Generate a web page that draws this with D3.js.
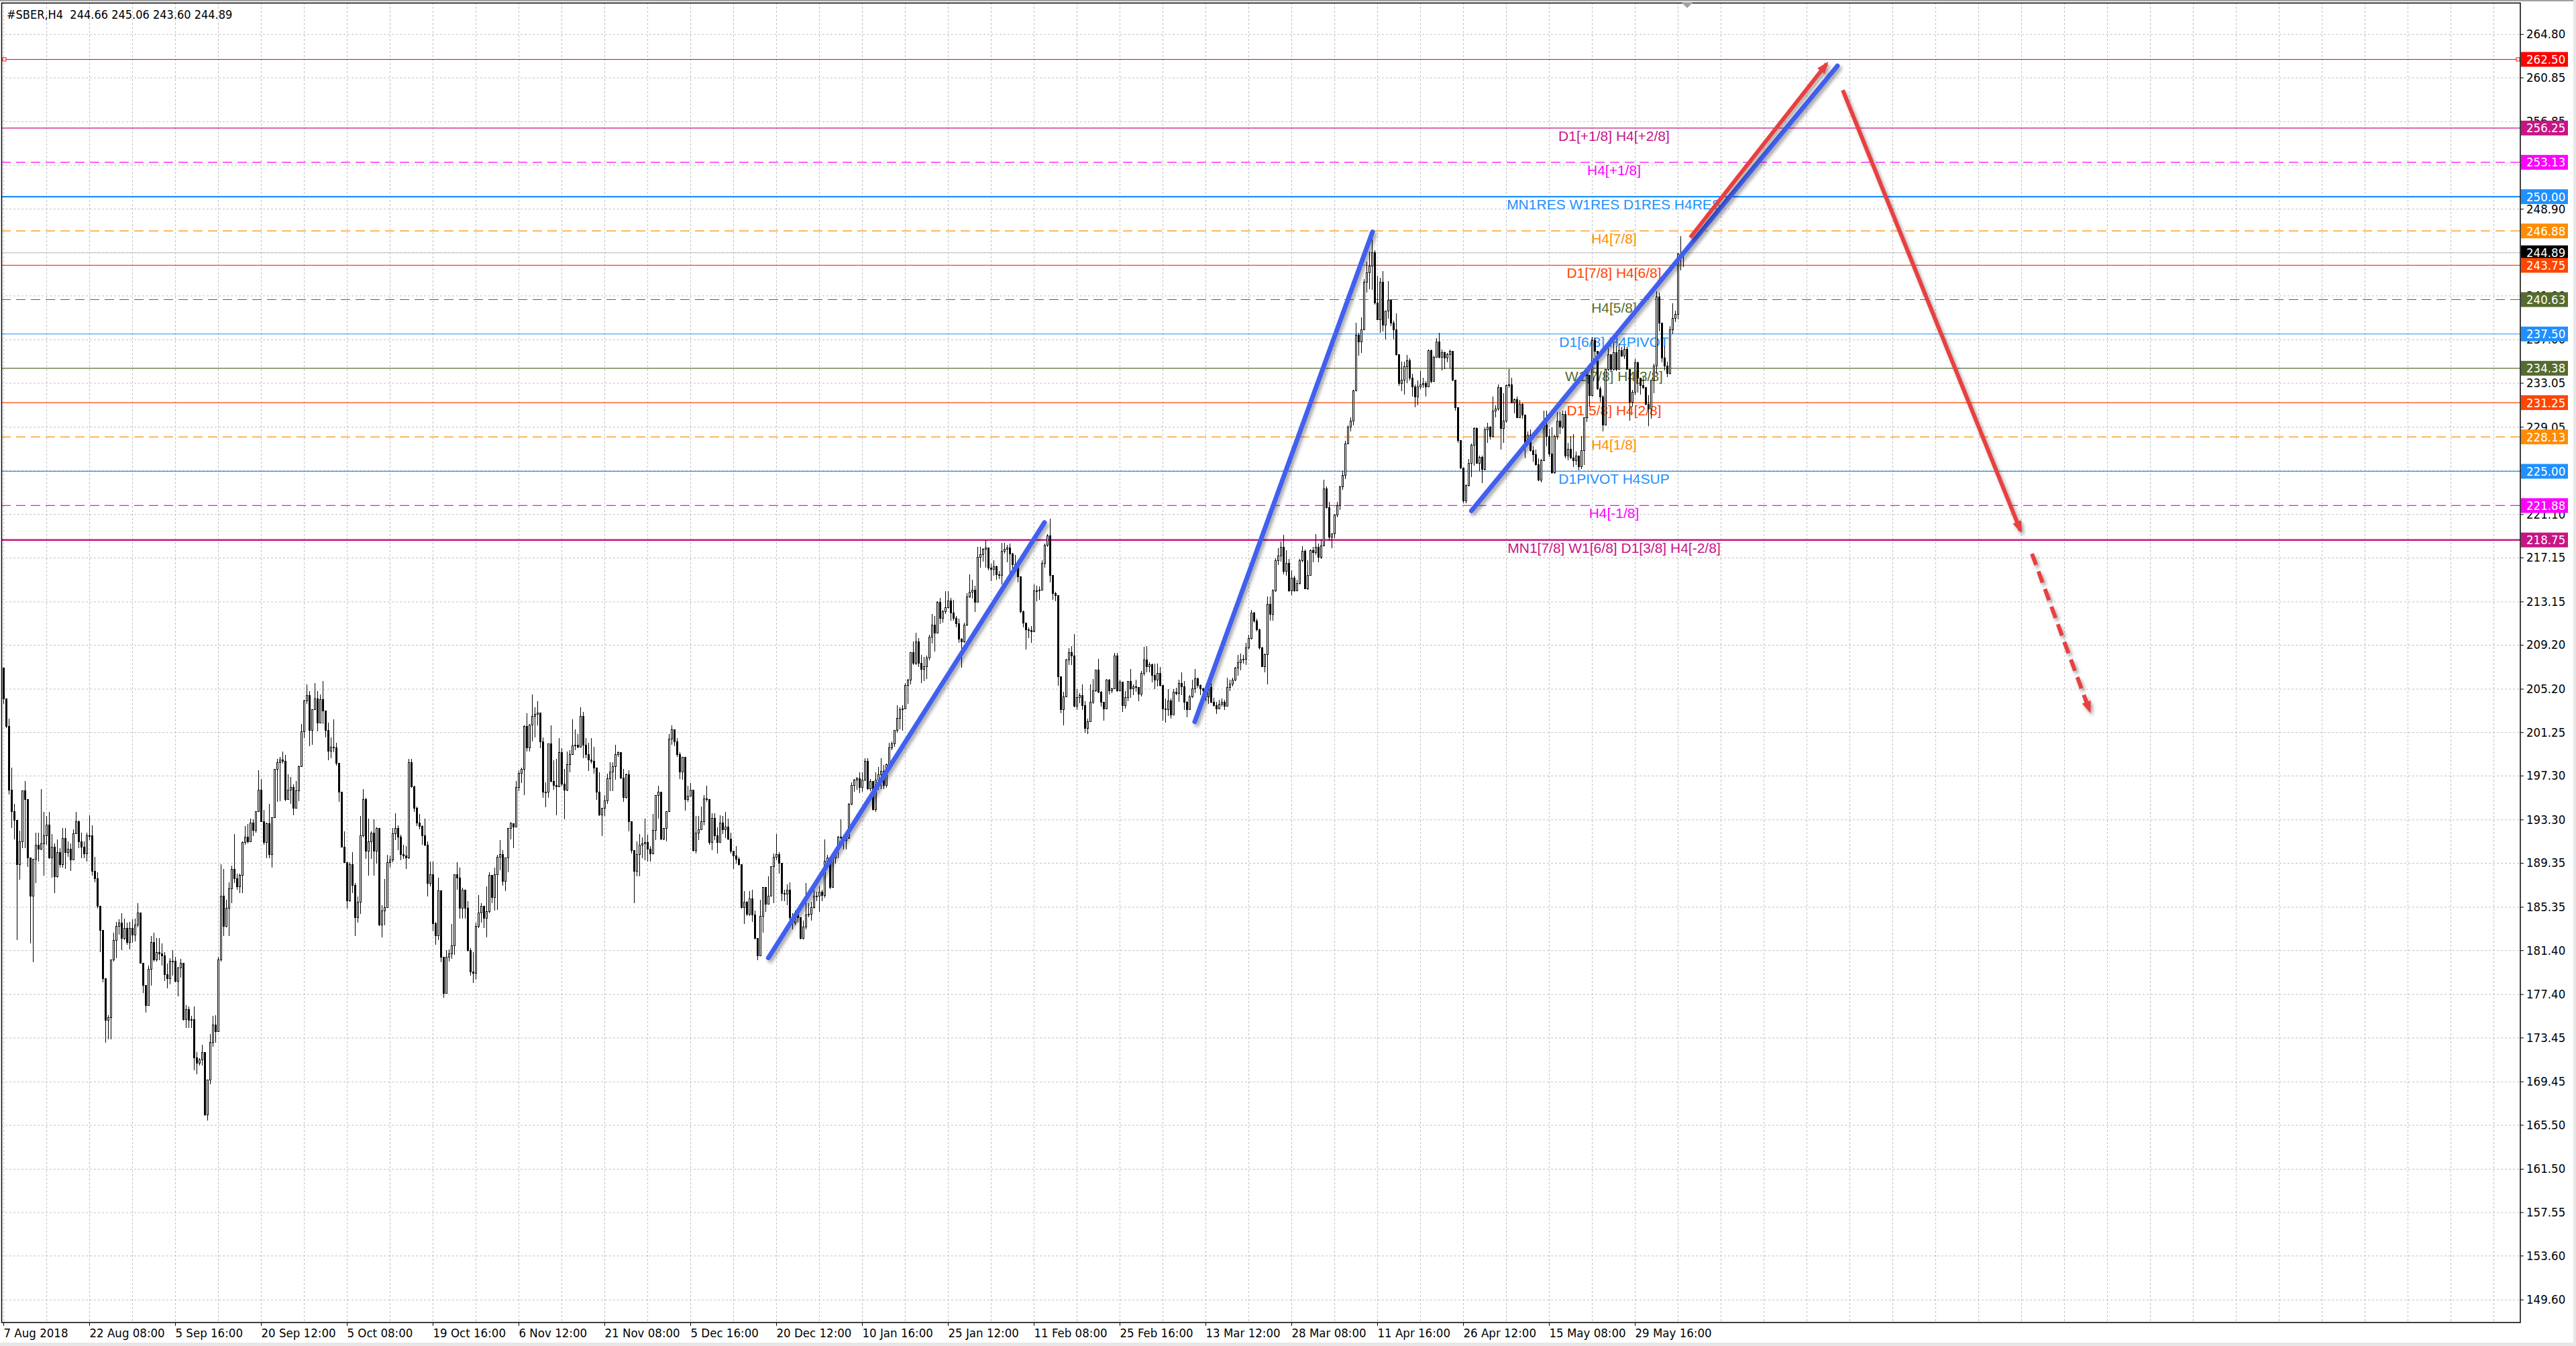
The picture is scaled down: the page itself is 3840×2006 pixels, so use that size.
<!DOCTYPE html>
<html>
<head>
<meta charset="utf-8">
<script src="https://d3js.org/d3.v7.min.js"></script>
<style>
html, body { margin: 0; padding: 0; background: #fff; overflow: hidden; }
svg { display: block; }
.ax text { font-family: "DejaVu Sans Condensed", "DejaVu Sans", sans-serif; font-size: 18.5px; fill: #000; }
.ax line { stroke: #000; }
.grid line { stroke: #c0c0c0; stroke-dasharray: 3,3; }
.lvl { font-family: "Liberation Sans", Arial, sans-serif; font-size: 21px; text-anchor: middle; }
</style>
</head>
<body>
<div id="chart"></div>
<script>
// #SBER H4 candles, one row = 16 bars (one grid cell)
var firstOpen = 207.1;

var closes = [
204.3,201.8,196.0,194.0,193.2,189.2,191.3,195.9,195.1,189.8,186.3,189.7,191.0,190.6,191.1,191.8,
192.8,189.8,190.8,188.1,190.3,189.2,191.6,190.3,190.6,189.6,192.0,193.1,191.3,190.8,190.2,191.8,
191.8,188.6,187.9,185.4,183.2,178.8,175.0,175.3,180.5,182.3,183.6,183.9,182.5,183.4,182.1,183.4,
182.8,183.7,184.8,180.2,178.2,176.4,179.7,182.1,180.5,181.2,181.1,180.9,179.2,178.8,180.4,180.4,
178.6,179.8,180.2,175.1,176.0,175.0,175.1,171.6,171.1,171.4,172.1,166.4,169.6,173.0,174.6,174.0,
180.5,186.3,183.6,185.2,187.0,188.8,187.9,187.2,188.2,191.2,191.7,191.3,193.0,192.3,194.0,196.0,
193.1,191.2,192.9,190.1,193.5,197.9,198.5,198.7,198.6,195.1,196.0,196.2,194.3,195.9,198.1,201.3,
204.1,204.6,201.4,203.3,204.3,202.1,204.2,203.2,201.4,199.5,199.9,199.8,198.4,195.8,190.8,189.4,
185.9,189.2,187.3,184.4,185.8,191.8,195.1,190.4,191.3,192.1,190.4,192.5,183.7,185.0,185.3,189.4,
189.6,192.0,192.5,191.7,190.1,190.0,189.8,198.5,196.3,194.3,193.0,192.7,191.8,191.0,187.5,188.3,
183.8,182.7,186.8,180.8,177.5,180.8,181.1,181.8,188.3,188.0,185.2,186.9,185.2,181.4,179.4,179.3,
183.6,184.8,185.4,184.3,184.9,188.2,186.2,188.3,189.9,190.1,187.7,189.8,192.5,192.9,192.6,196.2,
197.5,197.9,201.8,199.8,201.9,202.7,202.9,203.0,200.4,195.8,195.8,200.2,196.8,196.4,196.3,199.4,
196.5,196.0,198.3,199.2,200.0,200.1,199.9,202.7,200.1,199.2,198.7,198.6,198.0,195.8,193.7,194.3,
195.0,197.0,197.6,198.1,199.2,199.4,197.1,195.3,197.4,193.1,190.5,188.6,190.1,191.0,191.1,191.2,
190.6,190.2,192.3,195.5,195.8,191.5,192.5,194.0,200.6,201.5,200.4,199.2,197.6,199.0,195.1,195.4,
196.0,190.5,192.1,192.4,193.1,195.2,195.1,191.2,193.4,191.8,191.2,193.0,192.4,192.6,191.5,190.4,
190.0,189.7,189.2,185.3,185.8,184.7,186.1,184.6,182.5,180.9,184.5,187.1,185.6,186.3,189.0,189.9,
190.1,189.3,186.6,186.5,186.9,184.4,183.9,184.6,184.4,182.5,183.5,184.6,184.7,185.3,186.3,186.3,
186.7,186.4,189.5,189.8,187.1,189.8,190.5,191.7,191.7,191.4,191.6,194.7,196.4,196.9,197.0,196.2,
196.9,198.6,196.1,196.8,194.2,196.9,197.4,197.7,196.4,198.3,199.8,200.2,201.4,202.5,203.3,203.4,
205.5,206.0,208.5,207.5,209.5,207.5,207.0,207.2,208.0,209.9,211.0,210.3,213.1,211.6,212.2,212.6,
213.2,212.1,211.6,211.1,209.7,209.5,211.0,213.6,214.0,214.2,213.1,217.2,217.4,217.9,218.0,216.2,
216.1,216.3,215.6,215.5,217.7,217.9,218.0,217.5,216.5,216.4,215.4,212.2,211.2,210.6,210.5,210.4,
214.1,214.1,214.2,216.6,218.3,219.1,215.5,213.9,213.7,206.3,203.3,204.5,207.8,208.5,208.2,203.6,
204.4,204.6,203.7,201.6,202.2,204.0,205.0,206.9,204.9,204.0,203.4,206.0,205.0,205.2,208.2,205.0,
205.8,203.7,204.4,205.9,205.2,205.4,205.3,204.7,206.6,207.8,207.2,207.4,206.4,206.0,206.6,205.5,
203.4,203.3,204.1,202.8,204.9,204.8,205.7,205.4,204.0,203.3,204.5,205.2,206.1,205.5,205.2,205.1,
204.5,205.3,204.0,203.7,203.4,203.8,204.0,203.6,205.3,205.6,206.0,207.1,207.6,207.8,207.9,208.9,
209.8,212.1,211.4,210.6,208.9,207.2,208.3,212.9,212.0,214.1,216.9,217.3,218.1,215.9,216.6,214.1,
215.3,214.1,214.8,216.9,217.7,214.3,215.5,217.8,217.6,218.1,217.2,218.2,223.4,221.7,219.0,219.3,
221.0,221.9,223.6,224.6,227.5,229.0,229.6,232.3,237.4,236.8,237.9,242.2,243.1,243.7,244.9,240.3,
238.8,242.2,238.3,239.6,240.6,238.5,237.9,235.6,233.0,233.3,234.5,235.1,233.5,232.7,231.8,232.7,
232.9,233.0,232.7,236.0,233.2,235.4,236.8,235.4,235.8,235.3,235.6,235.9,233.3,230.8,227.8,225.3,
222.3,223.7,225.7,227.4,228.9,225.7,226.3,225.2,228.8,229.0,228.2,230.5,230.7,232.6,228.9,229.6,
232.8,232.9,231.2,231.5,229.9,231.1,230.1,227.6,228.3,226.9,226.5,225.6,224.2,226.0,229.2,228.2,
226.6,224.9,228.2,229.6,229.0,230.2,226.4,227.0,226.2,226.0,226.4,225.4,226.9,229.9,233.7,231.9,
236.9,235.9,232.5,231.8,229.2,234.3,235.6,234.3,235.8,234.3,236.0,235.5,236.1,234.3,231.3,232.2,
234.9,233.5,232.8,232.6,231.1,230.7,233.3,234.6,240.9,238.5,235.3,234.6,233.9,237.9,238.9,239.3,
244.8,244.66,244.89
];

var highs = [
207.1,204.1,202.5,198.0,194.7,193.2,192.3,195.9,196.8,195.1,189.8,189.7,192.1,192.1,196.1,194.0,
193.6,194.0,192.0,191.1,191.5,190.7,192.5,192.5,191.3,191.1,192.4,194.0,193.2,192.1,191.3,192.1,
193.7,192.8,189.9,188.5,185.4,183.2,178.8,175.5,180.5,183.0,184.0,184.2,184.8,184.3,183.9,184.0,
184.2,184.3,185.7,184.8,180.2,178.2,180.0,182.7,183.0,182.5,182.5,182.0,181.2,180.2,180.7,181.4,
180.8,179.9,180.6,180.2,176.4,176.3,175.4,176.3,172.1,171.6,172.8,172.1,169.6,173.8,175.4,175.5,
180.8,189.2,188.8,186.0,187.6,189.1,192.0,188.4,188.4,191.3,192.7,192.9,193.4,193.3,194.0,197.8,
197.0,194.2,193.0,194.7,193.5,197.9,198.8,199.0,199.5,199.2,197.4,197.2,196.5,196.8,198.2,202.0,
204.2,205.6,205.0,203.3,205.7,205.0,204.7,205.9,203.2,202.1,200.8,202.4,200.3,198.4,195.8,192.2,
189.4,189.4,190.3,187.5,186.3,193.6,196.1,195.3,193.4,192.2,193.3,192.6,192.5,185.5,187.9,190.1,
190.0,192.5,193.9,192.8,191.9,191.0,190.9,198.8,198.8,196.4,194.5,193.8,192.8,193.4,191.3,189.5,
189.5,184.0,188.0,186.8,180.8,181.4,181.5,183.8,188.3,189.4,188.9,187.1,186.9,185.9,181.6,181.2,
183.9,186.4,185.7,185.4,187.2,188.5,188.2,188.9,190.1,191.4,190.5,189.8,192.5,193.1,192.9,196.8,
197.8,198.0,201.9,203.0,202.0,204.7,203.5,204.1,203.0,200.8,196.7,200.2,201.9,198.7,198.8,200.7,
199.8,197.9,199.5,199.6,202.4,201.5,201.1,203.5,203.1,200.7,200.3,200.7,199.9,198.0,197.6,194.3,
195.5,197.5,198.5,198.5,200.1,199.5,199.4,197.9,197.5,197.8,193.1,190.5,191.3,192.0,191.7,193.4,
191.9,190.9,193.8,195.5,196.4,195.8,192.5,194.0,201.1,201.9,201.5,200.7,199.4,199.0,199.0,196.4,
196.6,196.0,193.6,193.6,194.5,195.5,196.4,195.1,193.9,193.9,192.6,193.7,193.6,194.0,193.4,192.1,
190.4,190.9,189.9,189.2,186.8,185.9,186.8,186.9,185.0,182.5,186.0,187.1,187.1,188.1,189.0,190.2,
192.0,190.3,189.3,186.9,187.4,187.6,184.8,185.0,185.0,184.4,184.1,187.5,185.7,185.8,187.1,186.7,
187.2,186.9,191.5,190.1,189.8,189.9,190.6,191.8,193.3,191.9,191.9,194.8,196.7,197.0,197.2,197.6,
197.6,198.9,198.9,197.0,196.8,197.6,198.1,198.9,198.3,198.4,200.3,200.4,201.4,203.7,203.5,203.7,
205.7,206.1,208.5,209.5,210.3,209.8,208.3,208.1,208.2,210.1,212.0,211.8,213.2,213.5,212.4,214.1,
214.1,213.5,213.3,211.8,211.6,209.8,211.2,213.9,215.6,215.1,214.6,218.1,218.1,218.0,218.75,217.9,
216.6,216.9,216.4,215.9,218.5,218.5,218.3,218.4,217.6,217.4,216.7,215.4,212.3,211.2,210.8,210.9,
214.7,214.6,214.5,216.9,218.4,219.3,220.7,215.5,214.0,213.7,206.3,204.9,207.9,208.9,209.1,210.2,
205.2,204.8,205.6,204.1,202.5,205.6,206.1,206.9,207.9,205.0,204.0,206.1,206.1,205.3,208.5,208.5,
206.0,205.8,205.0,205.9,207.0,205.6,206.0,205.3,206.8,209.0,209.1,207.6,207.5,207.5,207.5,207.2,
205.5,204.3,205.2,204.3,205.2,205.3,206.0,206.7,205.9,204.1,204.6,206.0,207.0,206.2,205.6,205.3,
205.1,205.7,205.7,204.4,204.0,204.2,204.3,204.2,206.2,206.0,206.2,207.2,208.3,208.4,208.3,209.4,
210.1,212.4,212.2,211.6,210.7,209.0,208.4,213.6,213.6,214.3,217.1,218.0,218.6,219.2,217.8,217.0,
216.0,215.5,215.1,217.0,218.2,217.9,216.9,217.9,218.1,219.3,218.4,218.8,224.2,223.6,222.2,219.3,
221.1,222.2,223.7,225.0,227.8,229.2,229.9,232.4,238.5,237.6,239.0,242.5,244.1,245.0,246.9,245.1,
242.8,242.6,243.2,239.6,242.3,240.6,238.7,239.4,235.6,235.0,235.0,235.6,235.3,233.9,232.9,233.3,
234.1,233.5,233.2,236.1,236.1,235.5,237.1,237.6,236.1,235.9,235.8,236.1,235.9,233.3,230.8,227.8,
225.3,223.8,226.1,227.5,229.0,229.0,226.4,226.4,229.0,229.4,229.1,231.8,231.0,232.9,232.6,232.1,
232.9,234.3,233.5,231.6,231.8,231.5,231.2,230.1,228.6,228.8,227.3,227.0,226.2,226.1,230.5,230.5,
228.9,229.0,228.3,230.4,230.4,230.5,230.5,227.6,228.2,228.4,226.8,226.4,228.2,229.9,234.3,233.7,
237.2,237.2,235.9,232.7,231.9,234.3,236.4,235.6,236.7,236.4,236.6,236.3,236.4,236.3,234.3,232.4,
235.2,235.0,233.5,233.6,232.6,231.9,233.3,234.8,241.4,241.3,238.5,236.4,235.0,238.2,240.3,239.6,
244.9,246.4,245.06
];

var lows = [
203.8,201.6,195.6,192.5,191.5,182.3,187.8,190.7,190.7,189.0,182.0,180.3,187.5,189.5,190.5,188.2,
191.0,189.7,188.0,186.6,188.0,188.9,188.9,188.8,189.9,188.6,189.6,192.0,190.7,189.8,189.8,189.5,
191.4,188.2,187.6,185.2,181.2,178.5,173.0,173.3,173.3,180.4,180.7,182.8,181.4,182.3,181.9,181.5,
182.1,182.2,183.5,180.2,177.5,175.7,176.4,178.2,180.4,180.4,180.5,180.0,178.6,177.9,178.3,179.1,
178.5,177.2,178.9,175.0,174.3,174.3,174.3,170.5,170.1,170.9,170.9,166.3,165.9,169.2,172.6,173.0,
174.0,180.4,182.7,183.5,182.7,185.7,187.5,186.9,186.6,186.6,191.0,191.1,191.3,191.8,192.1,194.0,
193.1,191.0,189.8,189.8,188.9,193.5,194.9,195.0,198.4,195.0,195.1,194.7,193.7,194.3,195.0,198.1,
200.7,203.8,200.0,200.1,203.3,201.3,202.1,202.0,200.8,198.7,198.9,199.4,198.2,194.9,190.8,189.4,
185.2,185.8,186.6,182.7,183.9,184.7,191.7,189.7,188.2,189.7,188.2,189.3,183.6,182.6,183.7,185.3,
188.9,189.4,191.4,190.5,189.6,189.7,188.8,189.7,196.2,194.0,192.7,192.4,191.0,190.9,186.3,187.2,
183.1,181.9,182.3,180.3,177.1,177.5,180.4,180.6,181.0,186.9,184.3,184.3,184.3,181.3,179.1,178.4,
178.7,183.4,183.9,183.4,182.6,184.8,185.7,185.0,185.1,188.7,187.3,186.8,188.5,191.5,190.7,192.6,
195.9,196.6,195.5,199.5,199.5,200.4,200.8,201.9,199.8,195.3,194.4,195.3,196.7,196.0,193.7,196.3,
196.3,193.3,195.9,197.6,199.2,199.6,199.8,199.9,198.9,198.9,197.7,198.4,197.5,195.1,193.6,191.8,
193.6,194.7,195.9,195.9,196.9,199.0,197.0,194.9,195.2,192.2,190.2,185.7,188.1,188.1,189.8,189.6,
189.5,189.5,190.2,191.4,193.4,191.4,191.4,191.3,194.0,200.1,200.0,199.0,197.0,196.9,194.1,194.9,
195.4,190.4,190.2,191.4,192.4,192.8,194.9,191.0,190.5,191.4,190.2,191.2,192.0,191.6,191.4,190.2,
188.8,189.3,189.1,185.2,183.8,184.5,184.5,184.0,182.4,180.5,180.9,183.0,184.9,185.6,186.3,185.7,
189.6,188.4,185.9,185.9,185.5,183.7,183.3,183.7,183.9,182.4,182.4,183.3,184.4,184.1,185.2,185.9,
184.9,185.9,186.2,189.2,187.0,187.4,189.3,189.8,191.2,190.6,190.6,191.6,194.6,195.8,196.0,195.7,
195.8,196.8,196.0,195.9,194.1,194.0,196.0,196.1,196.1,196.2,198.3,199.6,199.9,201.2,201.5,201.4,
203.4,203.8,205.6,207.4,207.4,207.2,205.7,205.9,206.1,207.8,209.3,208.6,210.3,211.1,211.2,212.0,
212.5,211.4,211.4,210.8,209.4,207.1,209.4,210.9,213.5,213.4,212.2,213.1,216.2,216.8,216.2,216.0,
215.0,215.5,215.1,215.2,214.7,217.5,216.7,215.5,216.0,216.2,214.9,212.1,210.8,208.8,209.8,209.4,
210.4,213.2,213.3,214.2,216.2,218.1,214.9,213.3,213.2,205.5,203.0,201.9,204.5,207.4,207.4,203.5,
203.3,203.9,203.3,201.2,201.1,202.2,203.8,204.9,204.8,203.6,202.3,203.4,204.7,204.8,205.2,204.9,
205.0,203.1,203.4,204.1,204.4,204.6,204.9,204.1,204.5,206.4,206.7,206.7,205.8,205.2,205.4,205.4,
202.3,202.1,202.7,202.5,202.8,204.6,204.0,204.6,203.3,202.6,203.3,204.4,204.8,205.3,204.6,204.7,
204.1,203.8,203.9,203.6,202.9,203.4,203.6,203.3,203.6,205.0,205.4,205.9,206.4,206.9,207.5,207.4,
208.8,209.7,211.2,210.4,208.8,207.2,206.7,205.6,211.4,211.4,214.0,216.5,216.8,215.6,215.5,214.0,
213.7,214.0,214.1,214.7,216.7,214.3,214.2,215.5,216.7,217.4,216.7,217.0,218.2,221.6,218.7,218.0,
218.9,220.8,221.5,223.3,224.3,227.5,228.6,229.2,232.3,235.5,235.8,237.9,241.3,241.6,241.5,240.2,
238.8,237.6,237.7,237.0,238.9,238.2,237.0,235.5,232.8,232.3,232.0,233.0,233.3,231.8,230.8,231.0,
232.5,232.6,231.8,232.7,233.0,233.2,235.4,235.3,234.2,234.3,234.9,234.4,233.2,230.5,227.6,225.2,
222.1,222.1,223.6,224.5,225.5,225.7,225.0,223.9,225.1,227.6,227.9,228.1,229.9,230.5,227.0,227.6,
229.4,232.6,231.2,230.3,229.9,229.9,229.8,226.2,227.4,226.8,225.9,225.5,224.1,224.0,226.0,227.3,
226.3,224.8,224.8,227.9,228.4,228.9,226.2,226.0,226.1,225.4,225.6,225.1,225.2,225.6,229.5,230.9,
231.8,235.4,232.4,231.3,228.6,229.2,234.1,234.1,234.2,234.1,234.3,235.4,235.2,234.3,229.6,230.9,
231.9,232.2,232.0,232.5,231.0,229.1,229.8,232.1,233.9,237.7,234.9,234.2,233.6,233.8,237.5,238.6,
238.8,243.3,243.60
];

// time axis: label text and the bar it stands on
var xLabels = ["7 Aug 2018","22 Aug 08:00","5 Sep 16:00","20 Sep 12:00","5 Oct 08:00","19 Oct 16:00",
  "6 Nov 12:00","21 Nov 08:00","5 Dec 16:00","20 Dec 12:00","10 Jan 16:00","25 Jan 12:00","11 Feb 08:00",
  "25 Feb 16:00","13 Mar 12:00","28 Mar 08:00","11 Apr 16:00","26 Apr 12:00","15 May 08:00","29 May 16:00"];
var xLabelBars = [0,32,64,96,128,160,192,224,256,288,320,352,384,416,448,480,512,544,576,608];

// price axis ticks
var yTicks = [264.80,260.85,256.85,252.90,248.90,244.95,241.00,237.00,233.05,229.05,225.10,221.10,
  217.15,213.15,209.20,205.20,201.25,197.30,193.30,189.35,185.35,181.40,177.40,173.45,169.45,
  165.50,161.50,157.55,153.60,149.60];

// Murrey / pivot levels
var levelPrices = [262.50,256.25,253.13,250.00,246.88,243.75,240.63,237.50,234.38,231.25,228.13,225.00,221.88,218.75];
var levelTexts = ["","D1[+1/8] H4[+2/8]","H4[+1/8]","MN1RES W1RES D1RES H4RES","H4[7/8]","D1[7/8] H4[6/8]",
  "H4[5/8]","D1[6/8] H4PIVOT","W1[7/8] H4[3/8]","D1[5/8] H4[2/8]","H4[1/8]","D1PIVOT H4SUP","H4[-1/8]",
  "MN1[7/8] W1[6/8] D1[3/8] H4[-2/8]"];
var lastPrice = 244.89;
var titleText = "#SBER,H4  244.66 245.06 243.60 244.89";

// hand-drawn lines: [bar1, price1, bar2, price2]
var blueLines = [[285.1,180.7,388.0,220.34],[444.0,202.2,510.25,246.8],[547.1,221.4,683.5,261.9]];
var redArrows = [[628.65,246.27,679.5,262.1],[685.5,259.7,751.75,219.6],[756,217.5,777.5,203.2]];

// styles
var levelColor = ["#ff0000","#c71585","#ff00ff","#1e90ff","#ff8c00","#ff4500","#556b2f","#1e90ff",
  "#556b2f","#ff4500","#ff8c00","#1e90ff","#ff00ff","#c71585"];
var levelDashed = [0,0,1,0,1,0,1,0,0,0,1,0,1,0];
var levelWidth = [1.2,1.2,1.2,2.4,1.2,1.2,1.2,1.2,1.2,1.2,1.2,1.2,1.2,2.4];
var textBar = 600.25;

var W = 3840, H = 2006;
var pL = 2, pT = 4, pR = 3757, pB = 1971;

var x = d3.scaleLinear().domain([0, 938]).range([5, 3757]);
var y = d3.scaleLinear().domain([147.51, 267.66]).range([pB, pT]);

var svg = d3.select("#chart").append("svg").attr("width", W).attr("height", H);

// window chrome
svg.append("rect").attr("width", W).attr("height", H).attr("fill", "#fff");
svg.append("rect").attr("x", 0).attr("y", 0).attr("width", W).attr("height", 2).attr("fill", "#a0a0a0");
svg.append("rect").attr("x", 3836).attr("y", 0).attr("width", 4).attr("height", H).attr("fill", "#e6e6e6");
svg.append("rect").attr("x", 0).attr("y", 2001).attr("width", W).attr("height", 5).attr("fill", "#e6e6e6");

var defs = svg.append("defs");
defs.append("clipPath").attr("id", "plot").append("rect")
  .attr("x", pL).attr("y", pT).attr("width", pR - pL).attr("height", pB - pT);
var sh = defs.append("filter").attr("id", "shadow").attr("x", "-10%").attr("y", "-10%").attr("width", "130%").attr("height", "130%");
sh.append("feDropShadow").attr("dx", 3).attr("dy", 4).attr("stdDeviation", 2.5)
  .attr("flood-color", "#000").attr("flood-opacity", 0.35);
defs.append("marker").attr("id", "arrow").attr("markerUnits", "userSpaceOnUse")
  .attr("viewBox", "0 0 18 14").attr("markerWidth", 18).attr("markerHeight", 14)
  .attr("refX", 14).attr("refY", 7).attr("orient", "auto")
  .append("path").attr("d", "M0,0 L18,7 L0,14 z").attr("fill", "#e8403f");

// grid
var gy = svg.append("g").attr("class", "grid").attr("transform", "translate(" + pL + ",0)")
  .call(d3.axisLeft(y).tickValues(yTicks).tickSize(-(pR - pL)).tickFormat(""));
gy.select(".domain").remove();

var gx = svg.append("g").attr("class", "grid").attr("transform", "translate(0," + pT + ")")
  .call(d3.axisTop(x).tickValues(d3.range(0, 939, 16)).tickSize(-(pB - pT)).tickFormat(""));
gx.select(".domain").remove();

var plot = svg.append("g").attr("clip-path", "url(#plot)");

// levels
plot.selectAll("line.lvl").data(levelPrices).enter().append("line")
  .attr("x1", pL).attr("x2", pR)
  .attr("y1", function (d) { return y(d); }).attr("y2", function (d) { return y(d); })
  .attr("stroke", function (d, i) { return levelColor[i]; })
  .attr("stroke-width", function (d, i) { return levelWidth[i]; })
  .attr("stroke-dasharray", function (d, i) { return levelDashed[i] ? "14,8" : null; });

plot.append("line").attr("x1", pL).attr("x2", pR)
  .attr("y1", y(lastPrice)).attr("y2", y(lastPrice)).attr("stroke", "#c0c0c0").attr("stroke-width", 1.2);

plot.selectAll("text.lvl").data(levelPrices).enter().append("text")
  .attr("class", "lvl")
  .attr("x", x(textBar))
  .attr("y", function (d) { return y(d) + 19; })
  .attr("fill", function (d, i) { return levelColor[i]; })
  .text(function (d, i) { return levelTexts[i]; });

// selected-object handles on the red line
[pL + 2, pR - 6].forEach(function (px) {
  plot.append("rect").attr("x", px).attr("y", y(levelPrices[0]) - 2.5).attr("width", 5).attr("height", 5)
    .attr("fill", "#fff").attr("stroke", "#ff0000").attr("stroke-width", 1);
});

// candles
var bars = closes.map(function (c, i) {
  var o = i ? closes[i - 1] : firstOpen;
  return { i: i, o: o, c: c, h: Math.max(highs[i], o, c), l: Math.min(lows[i], o, c) };
});

var cg = plot.append("g").attr("shape-rendering", "crispEdges");
cg.selectAll("line").data(bars).enter().append("line")
  .attr("x1", function (d) { return Math.round(x(d.i)) + 0.5; })
  .attr("x2", function (d) { return Math.round(x(d.i)) + 0.5; })
  .attr("y1", function (d) { return y(d.h); })
  .attr("y2", function (d) { return y(d.l); })
  .attr("stroke", "#000").attr("stroke-width", 1);
cg.selectAll("rect").data(bars).enter().append("rect")
  .attr("x", function (d) { return Math.round(x(d.i)) - 0.5; })
  .attr("width", 2)
  .attr("y", function (d) { return y(Math.max(d.o, d.c)); })
  .attr("height", function (d) { return Math.max(1, Math.abs(y(d.o) - y(d.c))); })
  .attr("fill", function (d) { return d.c >= d.o ? "#fff" : "#000"; })
  .attr("stroke", "#000").attr("stroke-width", 1);

// trend lines
plot.selectAll("line.blue").data(blueLines).enter().append("line")
  .attr("x1", function (d) { return x(d[0]); }).attr("y1", function (d) { return y(d[1]); })
  .attr("x2", function (d) { return x(d[2]); }).attr("y2", function (d) { return y(d[3]); })
  .attr("stroke", "#4361ee").attr("stroke-width", 7).attr("stroke-linecap", "round")
  .attr("filter", "url(#shadow)");

plot.selectAll("line.red").data(redArrows).enter().append("line")
  .attr("x1", function (d) { return x(d[0]); }).attr("y1", function (d) { return y(d[1]); })
  .attr("x2", function (d) { return x(d[2]); }).attr("y2", function (d) { return y(d[3]); })
  .attr("stroke", "#e8403f").attr("stroke-width", 6)
  .attr("stroke-dasharray", function (d, i) { return i === 2 ? "18,10" : null; })
  .attr("marker-end", "url(#arrow)")
  .attr("filter", "url(#shadow)");

// frame
svg.append("rect").attr("x", pL + 0.5).attr("y", pT + 0.5)
  .attr("width", pR - pL - 0.5).attr("height", pB - pT - 0.5)
  .attr("fill", "none").attr("stroke", "#000").attr("stroke-width", 1.5);

// chart shift marker
var sx = x(627.5);
svg.append("path")
  .attr("d", "M" + (sx - 8) + "," + pT + " L" + (sx + 8) + "," + pT + " L" + sx + "," + (pT + 8) + " z")
  .attr("fill", "#a0a0a0");

// price axis
var ay = svg.append("g").attr("class", "ax").attr("transform", "translate(" + pR + ",0)")
  .call(d3.axisRight(y).tickValues(yTicks).tickSize(5).tickPadding(4).tickFormat(d3.format(".2f")));
ay.select(".domain").remove();

// time axis
var ax = svg.append("g").attr("class", "ax").attr("transform", "translate(0," + pB + ")")
  .call(d3.axisBottom(x).tickValues(xLabelBars).tickSize(5).tickPadding(4)
    .tickFormat(function (d, i) { return xLabels[i]; }));
ax.select(".domain").remove();
ax.selectAll("text").attr("text-anchor", "start");

// level price tags
var tags = levelPrices.map(function (p, i) { return { p: p, c: levelColor[i] }; });
tags.splice(5, 0, { p: lastPrice, c: "#000" });
var tg = svg.append("g").attr("class", "ax");
tg.selectAll("rect").data(tags).enter().append("rect")
  .attr("x", pR + 1).attr("width", 70).attr("height", 22)
  .attr("y", function (d) { return y(d.p) - 11; })
  .attr("fill", function (d) { return d.c; });
tg.selectAll("text").data(tags).enter().append("text")
  .attr("x", pR + 9).attr("y", function (d) { return y(d.p); }).attr("dy", "0.35em")
  .style("fill", "#fff")
  .text(function (d) { return d.p.toFixed(2); });

// title
svg.append("text").attr("x", 10).attr("y", 28)
  .style("font-family", '"DejaVu Sans Condensed", "DejaVu Sans", sans-serif')
  .style("font-size", "18px").style("white-space", "pre")
  .text(titleText);
</script>
</body>
</html>
